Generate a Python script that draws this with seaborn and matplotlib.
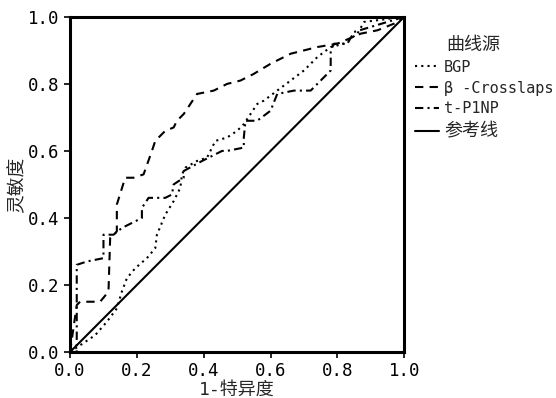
"""
ROC curves for BGP, beta-Crosslaps and t-P1NP (recreated with seaborn).
"""

import matplotlib
matplotlib.use("Agg")
import matplotlib.pyplot as plt
import seaborn as sns
import pandas as pd

# --- data (1-specificity, sensitivity) ---
bgp_x = [0, 0.03, 0.075, 0.11, 0.14, 0.155, 0.17, 0.195, 0.23, 0.255, 0.26, 0.285,
         0.31, 0.33, 0.335, 0.345, 0.38, 0.41, 0.435, 0.47, 0.50, 0.52, 0.54, 0.56,
         0.58, 0.62, 0.66, 0.70, 0.74, 0.78, 0.82, 0.86, 0.88, 1.0]
bgp_y = [0, 0.02, 0.05, 0.09, 0.13, 0.18, 0.22, 0.25, 0.28, 0.31, 0.35, 0.41,
         0.45, 0.49, 0.53, 0.55, 0.57, 0.58, 0.63, 0.64, 0.66, 0.68, 0.71, 0.74,
         0.75, 0.78, 0.81, 0.84, 0.88, 0.91, 0.92, 0.95, 0.985, 1.0]

ctx_x = [0, 0.02, 0.03, 0.09, 0.115, 0.12, 0.14, 0.14, 0.165, 0.19, 0.22, 0.245,
         0.255, 0.285, 0.31, 0.32, 0.34, 0.36, 0.38, 0.43, 0.47, 0.51, 0.55, 0.60,
         0.66, 0.74, 0.80, 0.87, 0.92, 0.97, 1.0]
ctx_y = [0, 0.14, 0.15, 0.15, 0.18, 0.34, 0.36, 0.44, 0.52, 0.52, 0.53, 0.60,
         0.63, 0.66, 0.67, 0.69, 0.71, 0.74, 0.77, 0.78, 0.80, 0.81, 0.83, 0.86,
         0.89, 0.91, 0.92, 0.95, 0.96, 0.98, 1.0]

p1np_x = [0, 0.02, 0.02, 0.05, 0.10, 0.10, 0.13, 0.155, 0.185, 0.215, 0.215, 0.235,
          0.285, 0.305, 0.31, 0.34, 0.34, 0.395, 0.455, 0.47, 0.52, 0.52, 0.525,
          0.56, 0.60, 0.62, 0.67, 0.72, 0.75, 0.78, 0.78, 0.79, 0.83, 0.85, 0.90, 1.0]
p1np_y = [0, 0.0, 0.26, 0.27, 0.28, 0.35, 0.35, 0.37, 0.385, 0.40, 0.43, 0.46,
          0.46, 0.47, 0.50, 0.52, 0.54, 0.57, 0.60, 0.60, 0.61, 0.64, 0.69,
          0.69, 0.72, 0.77, 0.78, 0.78, 0.81, 0.84, 0.90, 0.92, 0.92, 0.955, 0.97, 1.0]

ref_x = [0, 1]
ref_y = [0, 1]

labels = ["BGP", "β -Crosslaps", "t-P1NP", "参考线"]
ticks = [0.0, 0.2, 0.4, 0.6, 0.8, 1.0]

frames = []
for name, xs, ys in zip(labels, [bgp_x, ctx_x, p1np_x, ref_x],
                        [bgp_y, ctx_y, p1np_y, ref_y]):
    frames.append(pd.DataFrame({"fpr": xs, "tpr": ys, "curve": name}))
df = pd.concat(frames, ignore_index=True)

sns.set_style("ticks")
plt.rcParams["font.family"] = ["DejaVu Sans Mono", "Noto Sans CJK SC"]

fig = plt.figure(figsize=(5.56, 3.98), dpi=100)
ax = fig.add_axes([0.126, 0.1156, 0.601, 0.842])

styles = {
    "BGP": (0, (1, 2)),
    "β -Crosslaps": (0, (4, 3)),
    "t-P1NP": (0, (4, 2, 1, 2)),
    "参考线": "-",
}
for name in labels:
    sub = df[df["curve"] == name]
    sns.lineplot(data=sub, x="fpr", y="tpr", ax=ax, sort=False, estimator=None,
                 color="black", linewidth=1.5, linestyle=styles[name], label=name)

ax.set_xlim(0, 1)
ax.set_ylim(0, 1)
ax.set_xticks(ticks)
ax.set_yticks(ticks)
ax.set_xticklabels([f"{t:.1f}" for t in ticks])
ax.set_yticklabels([f"{t:.1f}" for t in ticks])
ax.tick_params(direction="out", length=4, width=1.2, labelsize=12.5, colors="black")
for sp in ax.spines.values():
    sp.set_linewidth(2.2)
    sp.set_color("black")
    sp.set_visible(True)

ax.set_xlabel("1-特异度", fontsize=13, labelpad=0)
ax.set_ylabel("灵敏度", fontsize=13.5, labelpad=1)

leg = ax.legend(title="曲线源", loc="upper left", bbox_to_anchor=(1.0, 0.975),
                frameon=False, fontsize=11, title_fontsize=13,
                handlelength=1.6, handletextpad=0.3, labelspacing=0.38,
                borderaxespad=0.3)
leg._legend_box.align = "left"
leg.get_texts()[3].set_fontsize(13)
leg.get_title().set_x(31)

plt.savefig("out.png", dpi=100)
